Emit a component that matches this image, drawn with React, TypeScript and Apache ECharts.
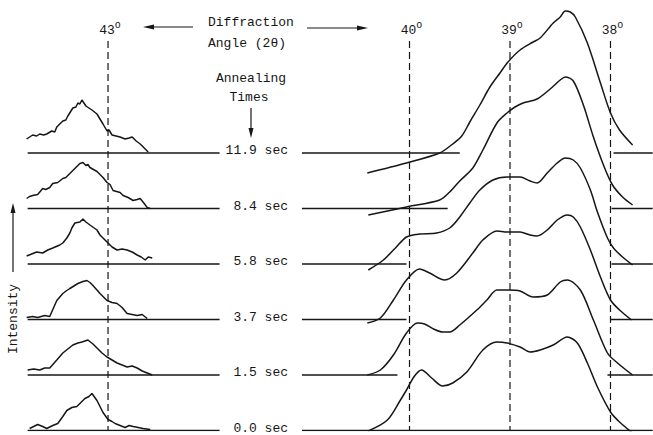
import React, { useEffect, useRef } from 'react';
import * as echarts from 'echarts';

// Annealing times, top trace first
const annealingTimes = ['11.9', '8.4', '5.8', '3.7', '1.5', '0.0'];
// Angle reference lines (2θ, degrees)
const angleTicks = [43, 40, 39, 38];
// Vertical stacking step between traces (intensity units)
const traceSpacing = 55.5;
const dashTop = 389.5;

// Left peak (~43°), [2θ, intensity]
const peak43_t119 = [[43.81,14],[43.78,16],[43.75,18],[43.71,17],[43.68,19],[43.64,18],[43.61,19],[43.56,22],[43.53,21],[43.51,26],[43.45,32],[43.42,33],[43.40,37],[43.35,45],[43.32,46],[43.30,50],[43.28,49],[43.26,53],[43.24,50],[43.22,47],[43.16,43],[43.11,39],[43.05,29],[43.01,22],[42.99,23],[42.96,18],[42.92,17],[42.88,16],[42.83,14],[42.79,15],[42.76,16],[42.72,12],[42.68,9],[42.64,5],[42.60,1]];
const peak43_t84 = [[43.81,10],[43.78,12],[43.75,13],[43.70,14],[43.65,20],[43.62,19],[43.58,21],[43.55,25],[43.50,26],[43.45,30],[43.42,31],[43.38,35],[43.35,38],[43.28,45],[43.25,46],[43.22,43],[43.20,44],[43.18,41],[43.11,37],[43.05,31],[43.01,26],[42.98,24],[42.95,18],[42.88,16],[42.85,13],[42.80,11],[42.75,8],[42.71,9],[42.68,10],[42.64,5],[42.61,1],[42.58,0]];
const peak43_t58 = [[43.81,8],[43.76,10],[43.71,12],[43.65,11],[43.60,14],[43.55,16],[43.48,19],[43.45,21],[43.41,26],[43.38,31],[43.36,36],[43.33,41],[43.28,42],[43.25,45],[43.22,42],[43.18,39],[43.11,34],[43.08,29],[43.01,22],[42.96,17],[42.91,14],[42.86,15],[42.81,14],[42.76,12],[42.71,9],[42.67,7],[42.63,4],[42.60,7],[42.56,6]];
const peak43_t37 = [[43.81,2],[43.75,3],[43.70,2],[43.63,4],[43.58,3],[43.51,19],[43.45,26],[43.41,29],[43.38,31],[43.30,36],[43.25,38],[43.21,39],[43.18,37],[43.15,34],[43.08,26],[43.01,19],[42.96,17],[42.91,16],[42.86,12],[42.81,6],[42.76,5],[42.71,4],[42.66,5],[42.61,1]];
const peak43_t15 = [[43.80,5],[43.74,6],[43.68,5],[43.63,7],[43.58,7],[43.51,15],[43.45,22],[43.40,26],[43.35,30],[43.30,32],[43.26,33],[43.20,35],[43.15,31],[43.11,27],[43.06,22],[43.01,18],[42.96,15],[42.91,12],[42.86,10],[42.81,8],[42.76,9],[42.71,7],[42.66,4],[42.61,2],[42.56,0]];
const peak43_t00 = [[43.78,2],[43.74,4],[43.70,6],[43.65,4],[43.61,2],[43.55,5],[43.50,7],[43.45,14],[43.41,20],[43.36,23],[43.31,24],[43.27,28],[43.23,32],[43.19,34],[43.16,37],[43.11,30],[43.05,18],[43.00,11],[42.96,9],[42.93,7],[42.88,5],[42.83,3],[42.79,5],[42.75,4],[42.70,3],[42.65,2],[42.58,1]];

// Right peaks (40°–38°), [2θ, intensity]
const peak39_t119 = [[40.42,-20],[40.03,-10],[39.70,0],[39.57,9],[39.48,17],[39.40,31],[39.30,48],[39.20,66],[39.10,80],[39.02,91],[38.90,103],[38.77,111],[38.70,115],[38.57,130],[38.50,136],[38.45,142],[38.40,141],[38.35,136],[38.23,110],[38.10,70],[38.00,40],[37.91,23],[37.78,8]];
const peak39_t84 = [[40.41,-6.5],[40.03,1.5],[39.70,8.5],[39.60,16.5],[39.50,27.5],[39.37,40.5],[39.27,58.5],[39.13,85.5],[39.03,95.5],[38.95,101.5],[38.87,105.5],[38.73,109.5],[38.60,119.5],[38.50,128.5],[38.45,131.5],[38.37,127.5],[38.27,103.5],[38.17,71.5],[38.07,43.5],[37.98,23.5],[37.88,11.5],[37.78,3.5]];
const peak39_t58 = [[40.41,-6],[40.26,4],[40.14,16],[40.03,27],[39.90,30],[39.73,31],[39.60,36],[39.50,47],[39.40,61],[39.30,74],[39.17,84],[39.03,87],[38.90,87],[38.80,83],[38.73,81],[38.63,91],[38.53,101],[38.45,106],[38.37,104],[38.30,96],[38.20,74],[38.13,52],[38.03,26],[37.97,16],[37.88,7],[37.78,-1]];
const peak39_t37 = [[40.42,-3.5],[40.29,1.5],[40.16,19.5],[40.03,39.5],[39.90,50.5],[39.80,46.5],[39.65,39.5],[39.53,46.5],[39.37,66.5],[39.27,79.5],[39.13,88.5],[39.03,87.5],[38.90,87.5],[38.80,84.5],[38.73,83.5],[38.63,89.5],[38.53,99.5],[38.43,104.5],[38.37,102.5],[38.30,92.5],[38.20,69.5],[38.10,42.5],[38.00,19.5],[37.91,9.5],[37.79,-0.5]];
const peak39_t15 = [[40.42,0],[40.29,5],[40.16,20],[40.03,42],[39.92,52],[39.85,51],[39.76,46],[39.67,43],[39.60,43],[39.50,50],[39.33,65],[39.23,75],[39.13,85],[39.03,85],[38.90,84],[38.77,78],[38.63,80],[38.50,93],[38.43,95],[38.30,85],[38.17,55],[38.03,22],[37.93,12],[37.78,0]];
const peak39_t00 = [[40.41,-0.5],[40.22,10.5],[40.09,30.5],[40.03,40.5],[39.95,54.5],[39.88,60.5],[39.78,52.5],[39.67,44.5],[39.57,47.5],[39.43,58.5],[39.27,80.5],[39.13,88.5],[39.03,87.5],[38.90,83.5],[38.80,78.5],[38.70,80.5],[38.57,85.5],[38.43,93.5],[38.33,87.5],[38.23,67.5],[38.13,43.5],[38.00,18.5],[37.91,8.5],[37.78,-2.5]];

const leftTraces = [peak43_t119, peak43_t84, peak43_t58, peak43_t37, peak43_t15, peak43_t00];
const rightTraces = [peak39_t119, peak39_t84, peak39_t58, peak39_t37, peak39_t15, peak39_t00];

// Baseline segments in 2θ
const leftBaseline = [43.80, 41.89];
const rightBaselineSegments = [
  [[41.07, 39.50], [37.97, 37.58]],
  [[41.07, 39.62], [37.99, 37.58]],
  [[41.07, 40.03], [37.99, 37.58]],
  [[41.07, 40.03], [38.00, 37.58]],
  [[41.07, 40.12], [38.03, 37.58]],
  [[41.07, 37.58]],
];

const FONT = '"Liberation Mono", "DejaVu Sans Mono", monospace';
const INK = '#161616';

export default function App() {
  const ref = useRef<HTMLDivElement>(null);
  useEffect(() => {
    const chart = echarts.init(ref.current!, null, { renderer: 'svg' });
    const series: any[] = [];
    const n = annealingTimes.length;
    annealingTimes.forEach((t, i) => {
      const off = (n - 1 - i) * traceSpacing;
      const shift = (arr: number[][]) => arr.map(([a, v]) => [a, v + off]);
      const traceStyle = { color: INK, width: 1.5 };
      series.push({ type: 'line', name: t + ' sec 43', data: shift(leftTraces[i]), symbol: 'none', silent: true, lineStyle: traceStyle });
      series.push({ type: 'line', name: t + ' sec 39', data: shift(rightTraces[i]), symbol: 'none', smooth: 0.3, silent: true, lineStyle: traceStyle });
      [leftBaseline, ...rightBaselineSegments[i]].forEach((seg) => {
        series.push({ type: 'line', data: [[seg[0], off], [seg[1], off]], symbol: 'none', silent: true, lineStyle: { color: INK, width: 1.3 } });
      });
    });
    angleTicks.forEach((a) => {
      series.push({ type: 'line', data: [[a, dashTop], [a, 0]], symbol: 'none', silent: true, lineStyle: { color: INK, width: 1.2, type: [7, 4] } });
    });

    chart.setOption({
      animation: false,
      backgroundColor: '#ffffff',
      grid: { left: 0, right: 0, top: 0, bottom: 4.5 },
      xAxis: { type: 'value', min: 37.577, max: 44.075, inverse: true, show: false, splitLine: { show: false } },
      yAxis: { type: 'value', min: 0, max: 430.5, show: false, splitLine: { show: false } },
      series,
    });

    const graphic: any[] = [];
    const txt = (text: string, x: number, y: number, align = 'left') => ({
      type: 'text', x, y, silent: true,
      style: { text, fill: INK, font: `13px ${FONT}`, align, verticalAlign: 'middle' },
    });
    angleTicks.forEach((a) => {
      const px = chart.convertToPixel({ xAxisIndex: 0 }, a) as number;
      graphic.push({
        type: 'text', x: px + 2, y: 30, silent: true,
        style: {
          text: `{n|${a}}{s|o}`, align: 'center', verticalAlign: 'middle',
          rich: {
            n: { font: `13px ${FONT}`, fill: INK },
            s: { font: `10px ${FONT}`, fill: INK, padding: [0, 0, 9, 0] },
          },
        },
      });
    });
    graphic.push(txt('Diffraction', 208, 22));
    graphic.push(txt('Angle (2\u03b8)', 208, 43));
    graphic.push(txt('Annealing', 251, 78, 'center'));
    graphic.push(txt('Times', 249, 97, 'center'));
    annealingTimes.forEach((t, i) => {
      const off = (n - 1 - i) * traceSpacing;
      const py = chart.convertToPixel({ yAxisIndex: 0 }, off) as number;
      graphic.push(txt(`${t} sec`, 288, py - 2.5, 'right'));
    });
    graphic.push({ type: 'text', x: 13, y: 319, rotation: Math.PI / 2, silent: true, style: { text: 'Intensity', fill: INK, font: `13px ${FONT}`, align: 'center', verticalAlign: 'middle' } });
    const line = (x1: number, y1: number, x2: number, y2: number) => ({ type: 'line', silent: true, shape: { x1, y1, x2, y2 }, style: { stroke: INK, lineWidth: 1.2 } });
    const head = (pts: number[][]) => ({ type: 'polygon', silent: true, shape: { points: pts }, style: { fill: INK } });
    graphic.push(line(193, 27, 150, 27), head([[143, 27], [154, 24.5], [154, 29.5]]));
    graphic.push(line(307, 28, 358, 28), head([[368, 28], [357, 25.5], [357, 30.5]]));
    graphic.push(line(251, 108, 251, 129), head([[251, 138], [248.5, 128], [253.5, 128]]));
    graphic.push(line(13, 272, 13, 212), head([[13, 203], [10.5, 213], [15.5, 213]]));
    chart.setOption({ graphic });

    return () => chart.dispose();
  }, []);
  return <div ref={ref} style={{ position: 'fixed', left: 0, top: 0, width: 653, height: 435, background: '#fff' }} />;
}
